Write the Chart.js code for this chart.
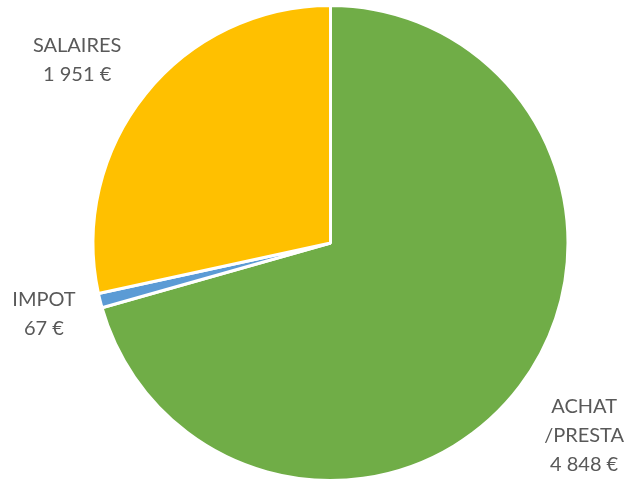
<!DOCTYPE html>
<html>
<head>
<meta charset="utf-8">
<script src="https://cdn.jsdelivr.net/npm/chart.js@4/dist/chart.umd.min.js"></script>
<style>
  html, body { margin: 0; padding: 0; background: #fff; }
  #wrap { width: 629px; height: 482px; position: relative; }
</style>
</head>
<body>
<div id="wrap"><canvas id="canvas"></canvas></div>
<script>
var categories = ["ACHAT\n/PRESTA", "IMPOT", "SALAIRES"];
var values = [4848, 67, 1951];
var colors = ["#70AD47", "#5B9BD5", "#FFC000"];

var formatEuro = function(v) {
    return String(v).replace(/\B(?=(\d{3})+(?!\d))/g, " ") + " €";
};

// labels outside the slices, anchored on the rim at the slice mid-angle
var outsideLabels = {
    id: 'outsideLabels',
    afterDatasetsDraw: function(chart) {
        var ctx = chart.ctx;
        var meta = chart.getDatasetMeta(0);
        ctx.save();
        ctx.font = '20px Lato, "Open Sans", sans-serif';
        ctx.fillStyle = '#595959';
        ctx.textAlign = 'center';
        ctx.textBaseline = 'middle';
        var lineH = 29;
        meta.data.forEach(function(arc, i) {
            var lines = categories[i].split("\n");
            lines.push(formatEuro(values[i]));
            var w = 0;
            lines.forEach(function(l) { w = Math.max(w, ctx.measureText(l).width); });
            var h = lines.length * lineH;
            var mid = (arc.startAngle + arc.endAngle) / 2;
            var dx = Math.cos(mid), dy = Math.sin(mid);
            var r = arc.outerRadius + 1.5;
            var ax = arc.x + dx * r, ay = arc.y + dy * r;
            var cx = ax + Math.sign(dx) * (w / 2 + 23);
            var cy = ay + dy * h * 0.92;
            lines.forEach(function(l, k) {
                ctx.fillText(l, cx, cy - h / 2 + lineH * (k + 0.5));
            });
        });
        ctx.restore();
    }
};

var config = {
    type: 'pie',
    data: {
        labels: categories,
        datasets: [{
            data: values,
            backgroundColor: colors,
            borderColor: '#ffffff',
            borderWidth: 3
        }]
    },
    options: {
        responsive: true,
        maintainAspectRatio: false,
        animation: false,
        layout: {
            padding: { left: 90, right: 58, top: 4, bottom: 0 }
        },
        plugins: {
            legend: { display: false },
            tooltip: { enabled: false }
        }
    },
    plugins: [outsideLabels]
};

window.onload = function() {
    window.myPie = new Chart(document.getElementById("canvas"), config);
};
</script>
</body>
</html>
